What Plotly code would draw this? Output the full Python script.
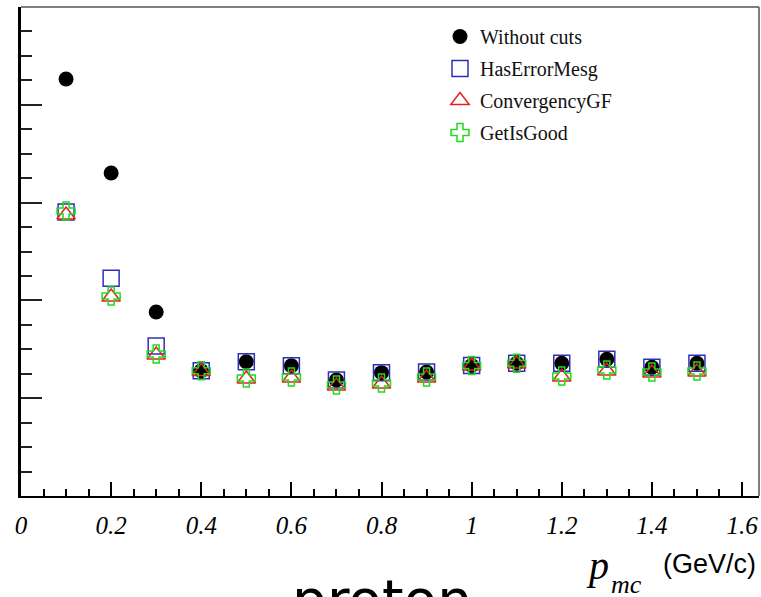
import plotly.graph_objects as go

# ---- data ----
p_mc = [0.1, 0.2, 0.3, 0.4, 0.5, 0.6, 0.7, 0.8, 0.9, 1.0, 1.1, 1.2, 1.3, 1.4, 1.5]
without_cuts = [4.264, 3.303, 1.881, 1.281, 1.373, 1.332, 1.186, 1.261, 1.268, 1.334, 1.357, 1.357, 1.398, 1.316, 1.357]
has_error_mesg = [2.904, 2.226, 1.534, 1.281, 1.373, 1.332, 1.186, 1.261, 1.268, 1.334, 1.357, 1.357, 1.398, 1.316, 1.357]
convergency_gf = [2.873, 2.035, 1.442, 1.273, 1.196, 1.207, 1.125, 1.145, 1.207, 1.329, 1.350, 1.217, 1.278, 1.258, 1.268]
get_is_good = [2.914, 2.045, 1.452, 1.281, 1.206, 1.217, 1.135, 1.155, 1.217, 1.334, 1.357, 1.227, 1.288, 1.268, 1.278]
x_tick_vals = [0, 0.2, 0.4, 0.6, 0.8, 1.0, 1.2, 1.4, 1.6]
x_tick_text = ["0", "0.2", "0.4", "0.6", "0.8", "1", "1.2", "1.4", "1.6"]

W, H = 761, 597
L, R, T, B = 21, 759, 7, 496


def px(x):
    return (x - L) / (R - L)


def py(y):
    return (B - y) / (B - T)


fig = go.Figure()
fig.add_trace(go.Scatter(x=p_mc, y=without_cuts, mode="markers", name="Without cuts",
                         legendgroup="a",
                         marker=dict(symbol="circle", size=15, color="black")))
fig.add_trace(go.Scatter(x=p_mc, y=has_error_mesg, mode="markers", name="HasErrorMesg",
                         legendgroup="b",
                         marker=dict(symbol="square-open", size=16, color="#2f2fb5",
                                     line=dict(width=1.5, color="#2f2fb5"))))
fig.add_trace(go.Scatter(x=p_mc, y=convergency_gf, mode="markers", name="ConvergencyGF",
                         legendgroup="c",
                         marker=dict(symbol="triangle-up-open", size=16, color="#e82020",
                                     line=dict(width=1.5, color="#e82020"))))
fig.add_trace(go.Scatter(x=p_mc, y=get_is_good, mode="markers", name="GetIsGood",
                         legendgroup="d",
                         marker=dict(symbol="cross-open", size=15, color="#1fdc1f",
                                     line=dict(width=1.5, color="#1fdc1f"))))

serif = "Liberation Serif"
sans = "Liberation Sans"

fig.update_layout(
    width=W, height=H,
    margin=dict(l=L, r=W - R, t=T, b=H - B, pad=0, autoexpand=False),
    paper_bgcolor="white", plot_bgcolor="white",
    showlegend=True,
    legend=dict(x=px(440), y=py(17), xanchor="left", yanchor="top",
                bgcolor="rgba(0,0,0,0)", borderwidth=0,
                font=dict(family=serif, size=20, color="#111"),
                tracegroupgap=3, itemsizing="trace"),
    xaxis=dict(range=[0, 1.6377], showgrid=False, zeroline=False, automargin=False,
               showline=True, linecolor="black", linewidth=2,
               ticks="inside", ticklen=14, tickwidth=1.5, tickcolor="black",
               tickvals=x_tick_vals, ticktext=x_tick_text,
               tickfont=dict(family=serif, size=25, color="black", style="italic"),
               ticklabelstandoff=6,
               minor=dict(dtick=0.05, tick0=0, ticks="inside", ticklen=7,
                          tickwidth=1.5, tickcolor="black", showgrid=False)),
    yaxis=dict(range=[0, 5], showgrid=False, zeroline=False, automargin=False,
               showline=True, linecolor="black", linewidth=2.5,
               ticks="inside", ticklen=21, tickwidth=1.5, tickcolor="#222",
               dtick=1, tick0=0, showticklabels=False,
               minor=dict(dtick=0.25, tick0=0, ticks="inside", ticklen=11,
                          tickwidth=1.5, tickcolor="#222", showgrid=False)),
    shapes=[
        dict(type="line", xref="paper", yref="paper", x0=0, x1=1, y0=1, y1=1,
             line=dict(color="#555", width=1.5)),
        dict(type="line", xref="paper", yref="paper", x0=1, x1=1, y0=0, y1=1,
             line=dict(color="#555", width=1.5)),
    ],
    annotations=[
        dict(text="proton", xref="paper", yref="paper", x=px(382), y=py(600),
             xanchor="center", yanchor="middle", showarrow=False,
             font=dict(family="DejaVu Sans", size=55, color="black")),
        dict(text="p", xref="paper", yref="paper", x=px(597), y=py(565),
             xanchor="center", yanchor="middle", showarrow=False,
             font=dict(family=serif, size=40, color="black", style="italic")),
        dict(text="mc", xref="paper", yref="paper", x=px(626), y=py(584),
             xanchor="center", yanchor="middle", showarrow=False,
             font=dict(family=serif, size=26, color="black", style="italic")),
        dict(text="(GeV/c)", xref="paper", yref="paper", x=px(709), y=py(564),
             xanchor="center", yanchor="middle", showarrow=False,
             font=dict(family=sans, size=27, color="black")),
    ],
)

fig.write_html(
    "out.html",
    config={"displayModeBar": False},
    post_script="document.body.style.margin='0';document.body.style.padding='0';"
                "document.body.style.overflow='hidden';"
                "document.documentElement.style.overflow='hidden';",
)
